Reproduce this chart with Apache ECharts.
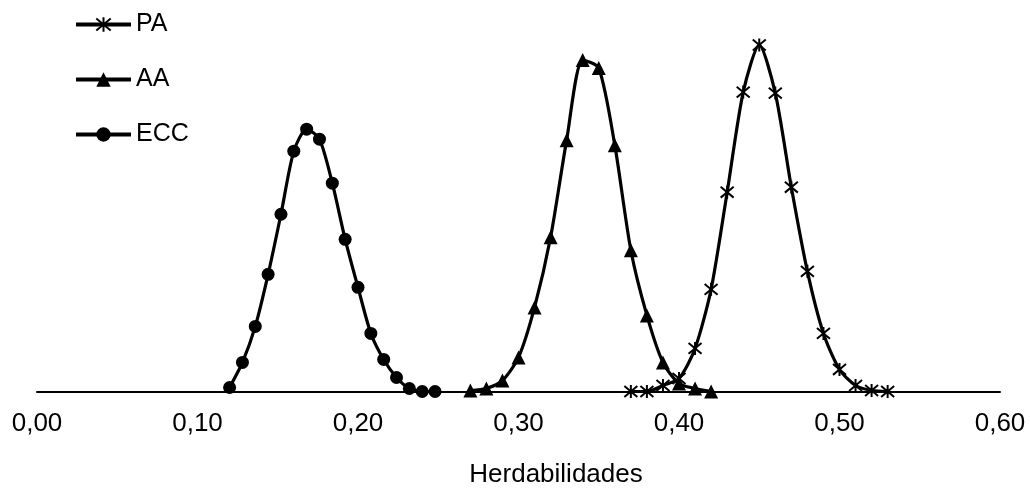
<!DOCTYPE html>
<html>
<head>
<meta charset="utf-8">
<script src="https://cdn.jsdelivr.net/npm/echarts@6/dist/echarts.min.js"></script>
<style>
html,body{margin:0;padding:0;background:#fff;}
#c{width:1030px;height:488px;}
</style>
</head>
<body>
<div id="c"></div>
<script>
const xTicks = [0, 0.1, 0.2, 0.3, 0.4, 0.5, 0.6];
const axisName = "Herdabilidades";

const paX = [0.37,0.38,0.39,0.40,0.41,0.42,0.43,0.44,0.45,0.46,0.47,0.48,0.49,0.50,0.51,0.52,0.53];
const paY = [0.000,0.000,0.006,0.013,0.043,0.102,0.199,0.299,0.346,0.298,0.204,0.120,0.058,0.022,0.006,0.001,0.000];

const aaX = [0.27,0.28,0.29,0.30,0.31,0.32,0.33,0.34,0.35,0.36,0.37,0.38,0.39,0.40,0.41,0.42];
const aaY = [0.001,0.003,0.011,0.034,0.084,0.154,0.251,0.331,0.323,0.246,0.141,0.076,0.029,0.008,0.003,0.000];

const eccX = [0.120,0.128,0.136,0.144,0.152,0.160,0.168,0.176,0.184,0.192,0.200,0.208,0.216,0.224,0.232,0.240,0.248];
const eccY = [0.004,0.029,0.065,0.117,0.177,0.240,0.262,0.252,0.208,0.152,0.104,0.058,0.032,0.014,0.003,0.000,0.000];

const pair = (xs, ys) => xs.map((x, i) => [x, ys[i]]);
const FONT = "'Liberation Sans', Arial, sans-serif";
const asterisk = 'path://M0,0L10,10M10,0L0,10M5,-1L5,11';

const chart = echarts.init(document.getElementById('c'), null, {renderer: 'canvas'});
const baseSeries = {
  type: 'line',
  smooth: 0.25,
  lineStyle: {color: '#000', width: 3.2},
  emphasis: {disabled: true},
  animation: false
};
chart.setOption({
  animation: false,
  grid: {left: 37, right: 30, top: 41, bottom: 96.5, outerBoundsMode: 'none', containLabel: false},
  legend: {
    orient: 'vertical',
    left: 69,
    top: 7,
    itemWidth: 55,
    itemHeight: 18,
    itemGap: 30,
    lineStyle: {width: 4},
    textStyle: {fontFamily: FONT, fontSize: 25, color: '#000'},
    data: ['PA', 'AA', 'ECC']
  },
  xAxis: {
    type: 'value',
    min: xTicks[0],
    max: xTicks[xTicks.length - 1],
    interval: 0.1,
    splitLine: {show: false},
    axisTick: {show: false},
    axisLine: {show: true, onZero: false, lineStyle: {color: '#000', width: 2}},
    axisLabel: {
      margin: 19,
      fontFamily: FONT, fontSize: 26, color: '#000',
      formatter: v => v.toFixed(2).replace('.', ',')
    },
    name: axisName,
    nameLocation: 'middle',
    nameGap: 70,
    nameTextStyle: {fontFamily: FONT, fontSize: 26, color: '#000', padding: [0, 0, 0, 75]}
  },
  yAxis: {
    type: 'value',
    min: 0,
    max: 0.35,
    show: false
  },
  series: [
    Object.assign({}, baseSeries, {
      name: 'PA',
      data: pair(paX, paY),
      symbol: asterisk,
      symbolSize: 13,
      itemStyle: {color: 'rgba(0,0,0,0)', borderColor: '#000', borderWidth: 2},
      z: 3
    }),
    Object.assign({}, baseSeries, {
      name: 'AA',
      data: pair(aaX, aaY),
      symbol: 'triangle',
      symbolSize: 14,
      itemStyle: {color: '#000', borderWidth: 0},
      z: 4
    }),
    Object.assign({}, baseSeries, {
      name: 'ECC',
      data: pair(eccX, eccY),
      symbol: 'circle',
      symbolSize: 13,
      itemStyle: {color: '#000', borderWidth: 0},
      z: 5
    })
  ]
});
</script>
</body>
</html>
